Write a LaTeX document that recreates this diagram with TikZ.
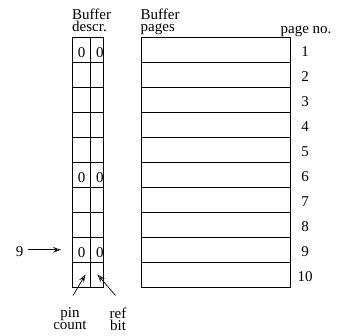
\documentclass[tikz,border=0pt]{standalone}
\usepackage{fontspec}
\setmainfont{Liberation Serif}
\usetikzlibrary{arrows.meta}
\begin{document}
\begin{tikzpicture}[x=1pt,y=-1pt,
  grid/.style={line width=1pt},
  lbl/.style={inner sep=0pt, font=\fontsize{15}{12}\selectfont},
  num/.style={inner sep=0pt, anchor=base, font=\fontsize{15}{15}\selectfont},
  ptr/.style={line width=0.7pt, -{Stealth[open,length=8pt,width=5.5pt,inset=3pt]}}]
\useasboundingbox (0,0) rectangle (339,335);
% descriptor column
\draw[grid] (72.3,37.3) rectangle (103.3,287.3);
\draw[grid] (90.7,37.3) -- (90.7,287.3);
% pages column
\draw[grid] (141,37.3) rectangle (290.7,287.3);
\foreach \i in {1,...,9}{
  \draw[grid] (72.3,37.3+25*\i) -- (103.3,37.3+25*\i);
  \draw[grid] (141,37.3+25*\i) -- (290.7,37.3+25*\i);
}
% headers
\node[lbl, anchor=north west, align=left] (hd) at (72,9) {Buffer\\descr.};
\node[lbl, anchor=north west, align=left] (hp) at (140.5,9) {Buffer\\pages};
\node[num] (hn) at (306,33) {page no.};
% page numbers
\foreach \i in {1,...,10}{
  \node[num] (p\i) at (305,37.3+25*\i-12.5+7) {\i};
}
% zeros
\foreach \r in {1,6,9}{
  \node[num] (z\r a) at (81.7,37.3+25*\r-12.5+7.5) {0};
  \node[num] (z\r b) at (99.8,37.3+25*\r-12.5+7.5) {0};
}
% pointer 9
\node[num] (nine) at (19.5,256) {9};
\coordinate (ninetip) at (61,249.8);
\draw[ptr] (nine.east |- ninetip) ++(5,0) -- (ninetip);
% bottom labels
\node[lbl, anchor=north, align=center] (pin) at (70,307.5) {pin\\count};
\node[lbl, anchor=north, align=center] (ref) at (118,307.5) {ref\\bit};
\coordinate (pintail) at (73,295.5);
\coordinate (pintip) at (85.5,274.5);
\coordinate (reftail) at (115.5,295.5);
\coordinate (reftip) at (97.5,274.5);
\draw[ptr] (pintail) -- (pintip);
\draw[ptr] (reftail) -- (reftip);
\end{tikzpicture}
\end{document}
